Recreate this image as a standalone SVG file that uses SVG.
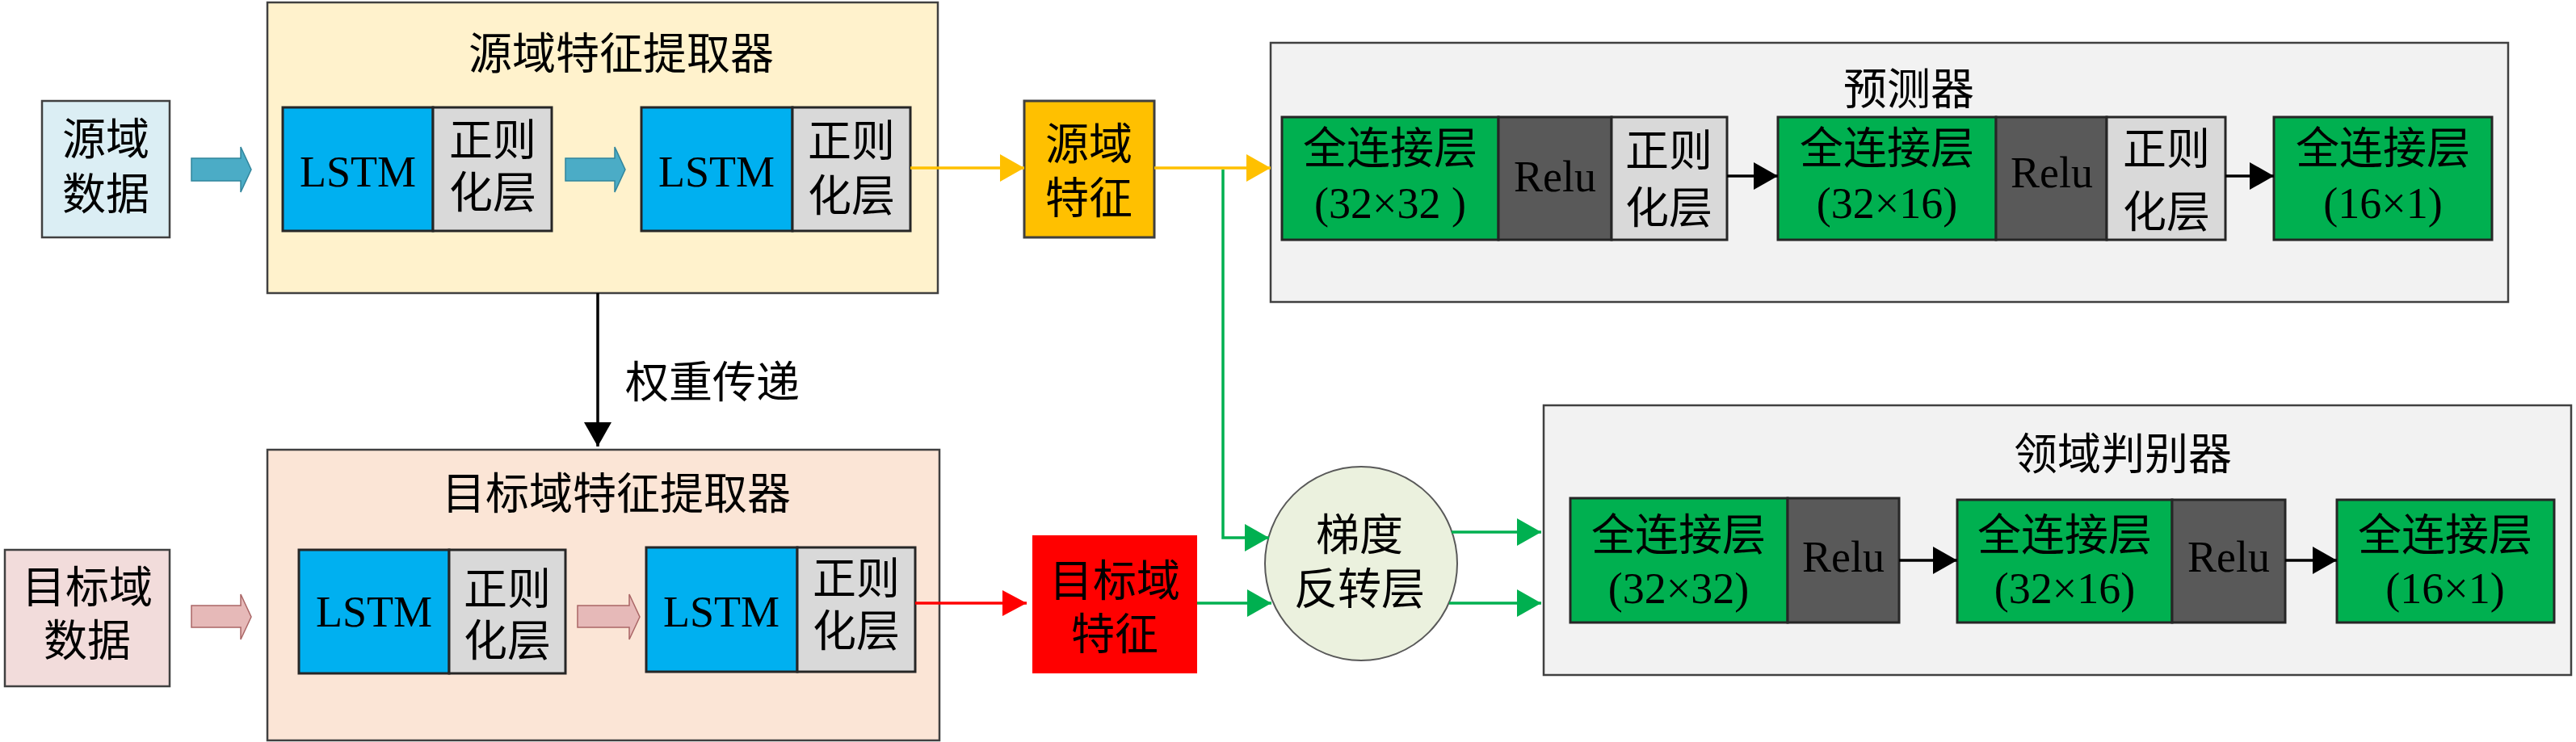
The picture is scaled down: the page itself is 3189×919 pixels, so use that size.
<svg xmlns="http://www.w3.org/2000/svg" width="3189" height="919" viewBox="0 0 3189 919">
<style>
text{font-family:"Liberation Serif","Noto Sans CJK SC",serif;font-size:54px;fill:#000;text-anchor:middle}
.outer{stroke:#404040;stroke-width:2.5}
.blk{stroke:#262626;stroke-width:3}
.lstm{fill:#00B0F0}
.norm{fill:#D9D9D9}
.fc{fill:#00B050}
.relu{fill:#595959}
.ln{fill:none;stroke-width:3.5}
</style>
<defs>
<marker id="ay" markerUnits="userSpaceOnUse" markerWidth="32" markerHeight="36" refX="30" refY="17" orient="auto"><path d="M0,0 L30,17 L0,34 z" fill="#FFC000"/></marker>
<marker id="ag" markerUnits="userSpaceOnUse" markerWidth="32" markerHeight="36" refX="30" refY="17" orient="auto"><path d="M0,0 L30,17 L0,34 z" fill="#00B050"/></marker>
<marker id="ar" markerUnits="userSpaceOnUse" markerWidth="32" markerHeight="36" refX="30" refY="16" orient="auto"><path d="M0,0 L30,16 L0,32 z" fill="#FF0000"/></marker>
<marker id="ab" markerUnits="userSpaceOnUse" markerWidth="32" markerHeight="36" refX="30" refY="17" orient="auto"><path d="M0,0 L30,17 L0,34 z" fill="#000"/></marker>
</defs>

<g id="src-extractor">
<rect x="331" y="3" width="830" height="360" fill="#FFF2CC" class="outer"/>
<text x="769" y="86">源域特征提取器</text>
</g>
<g id="tgt-extractor">
<rect x="331" y="557" width="832" height="360" fill="#FBE5D6" class="outer"/>
<text x="763" y="631">目标域特征提取器</text>
</g>
<g id="predictor">
<rect x="1573" y="53" width="1532" height="321" fill="#F2F2F2" class="outer"/>
<text x="2363" y="130">预测器</text>
</g>
<g id="discriminator">
<rect x="1911" y="502" width="1272" height="334" fill="#F2F2F2" class="outer"/>
<text x="2628" y="582">领域判别器</text>
</g>

<g id="src-data">
<rect x="52" y="125" width="158" height="169" fill="#DBEEF4" class="outer"/>
<text x="131" y="192">源域</text><text x="131" y="260">数据</text>
</g>
<g id="tgt-data">
<rect x="6" y="681" width="204" height="169" fill="#F2DCDB" class="outer"/>
<text x="108" y="747">目标域</text><text x="108" y="813">数据</text>
</g>

<g id="src-arrow1"><path d="M237,196 H298 V182 L311,210 L298,238 V224 H237 z" fill="#4BACC6" stroke="#31859C" stroke-width="1.5"/></g>
<g id="src-arrow2"><path d="M700,196 H761 V182 L774,210 L761,238 V224 H700 z" fill="#4BACC6" stroke="#31859C" stroke-width="1.5"/></g>
<g id="tgt-arrow1"><path d="M237,750 H298 V736 L311,764 L298,792 V777 H237 z" fill="#E6B9B8" stroke="#A66" stroke-width="1.5"/></g>
<g id="tgt-arrow2"><path d="M715,750 H779 V736 L792,764 L779,792 V777 H715 z" fill="#E6B9B8" stroke="#A66" stroke-width="1.5"/></g>

<g id="src-lstm1">
<rect x="350" y="133" width="186" height="153" class="lstm blk"/>
<rect x="536" y="133" width="147" height="153" class="norm blk"/>
<text x="443" y="231">LSTM</text>
<text x="610" y="193">正则</text><text x="610" y="258">化层</text>
</g>
<g id="src-lstm2">
<rect x="794" y="133" width="187" height="153" class="lstm blk"/>
<rect x="981" y="133" width="146" height="153" class="norm blk"/>
<text x="887" y="231">LSTM</text>
<text x="1054" y="194">正则</text><text x="1054" y="262">化层</text>
</g>
<g id="tgt-lstm1">
<rect x="370" y="681" width="186" height="153" class="lstm blk"/>
<rect x="556" y="681" width="144" height="153" class="norm blk"/>
<text x="463" y="776">LSTM</text>
<text x="628" y="749">正则</text><text x="628" y="813">化层</text>
</g>
<g id="tgt-lstm2">
<rect x="800" y="678" width="187" height="154" class="lstm blk"/>
<rect x="987" y="678" width="146" height="154" class="norm blk"/>
<text x="893" y="776">LSTM</text>
<text x="1060" y="736">正则</text><text x="1060" y="801">化层</text>
</g>

<g id="src-feature">
<rect x="1268" y="125" width="161" height="169" fill="#FFC000" stroke="#3F3F3F" stroke-width="3"/>
<text x="1348" y="198">源域</text><text x="1348" y="265">特征</text>
</g>
<g id="tgt-feature">
<rect x="1278" y="663" width="204" height="171" fill="#FF0000"/>
<text x="1380" y="739">目标域</text><text x="1380" y="805">特征</text>
</g>
<g id="grl">
<ellipse cx="1685" cy="698" rx="119" ry="120" fill="#EBF1DE" stroke="#595959" stroke-width="2"/>
<text x="1683" y="682">梯度</text><text x="1683" y="749">反转层</text>
</g>

<g id="pred-fc1">
<rect x="1587" y="145" width="268" height="152" class="fc blk"/>
<rect x="1855" y="145" width="140" height="152" class="relu blk"/>
<rect x="1995" y="145" width="143" height="152" class="norm blk"/>
<text x="1721" y="203">全连接层</text><text x="1721" y="270">(32×32 )</text>
<text x="1925" y="237">Relu</text>
<text x="2066" y="206">正则</text><text x="2066" y="277">化层</text>
</g>
<g id="pred-fc2">
<rect x="2201" y="145" width="270" height="152" class="fc blk"/>
<rect x="2471" y="145" width="137" height="152" class="relu blk"/>
<rect x="2608" y="145" width="147" height="152" class="norm blk"/>
<text x="2336" y="203">全连接层</text><text x="2336" y="270">(32×16)</text>
<text x="2540" y="232">Relu</text>
<text x="2682" y="204">正则</text><text x="2682" y="282">化层</text>
</g>
<g id="pred-fc3">
<rect x="2815" y="145" width="270" height="152" class="fc blk"/>
<text x="2950" y="203">全连接层</text><text x="2950" y="270">(16×1)</text>
</g>

<g id="disc-fc1">
<rect x="1944" y="617" width="269" height="154" class="fc blk"/>
<rect x="2213" y="617" width="138" height="154" class="relu blk"/>
<text x="2078" y="682">全连接层</text><text x="2078" y="747">(32×32)</text>
<text x="2282" y="708">Relu</text>
</g>
<g id="disc-fc2">
<rect x="2423" y="619" width="266" height="152" class="fc blk"/>
<rect x="2689" y="619" width="140" height="152" class="relu blk"/>
<text x="2556" y="682">全连接层</text><text x="2556" y="747">(32×16)</text>
<text x="2759" y="708">Relu</text>
</g>
<g id="disc-fc3">
<rect x="2893" y="619" width="269" height="152" class="fc blk"/>
<text x="3027" y="682">全连接层</text><text x="3027" y="747">(16×1)</text>
</g>

<g id="connectors">
<path d="M1127,208 H1268" class="ln" stroke="#FFC000" marker-end="url(#ay)"/>
<path d="M1429,208 H1573" class="ln" stroke="#FFC000" marker-end="url(#ay)"/>
<path d="M1514,210 V666 H1571" class="ln" stroke="#00B050" stroke-width="3" marker-end="url(#ag)"/>
<path d="M1482,747 H1574" class="ln" stroke="#00B050" marker-end="url(#ag)"/>
<path d="M1797,659 H1908" class="ln" stroke="#00B050" marker-end="url(#ag)"/>
<path d="M1794,747 H1908" class="ln" stroke="#00B050" marker-end="url(#ag)"/>
<path d="M1133,747 H1271" class="ln" stroke="#FF0000" marker-end="url(#ar)"/>
<path d="M740,363 V553" class="ln" stroke="#000" stroke-width="3" marker-end="url(#ab)"/>
<path d="M2138,218 H2201" class="ln" stroke="#000" marker-end="url(#ab)"/>
<path d="M2755,218 H2815" class="ln" stroke="#000" marker-end="url(#ab)"/>
<path d="M2351,694 H2423" class="ln" stroke="#000" marker-end="url(#ab)"/>
<path d="M2829,694 H2893" class="ln" stroke="#000" marker-end="url(#ab)"/>
<text x="882" y="493">权重传递</text>
</g>
</svg>
